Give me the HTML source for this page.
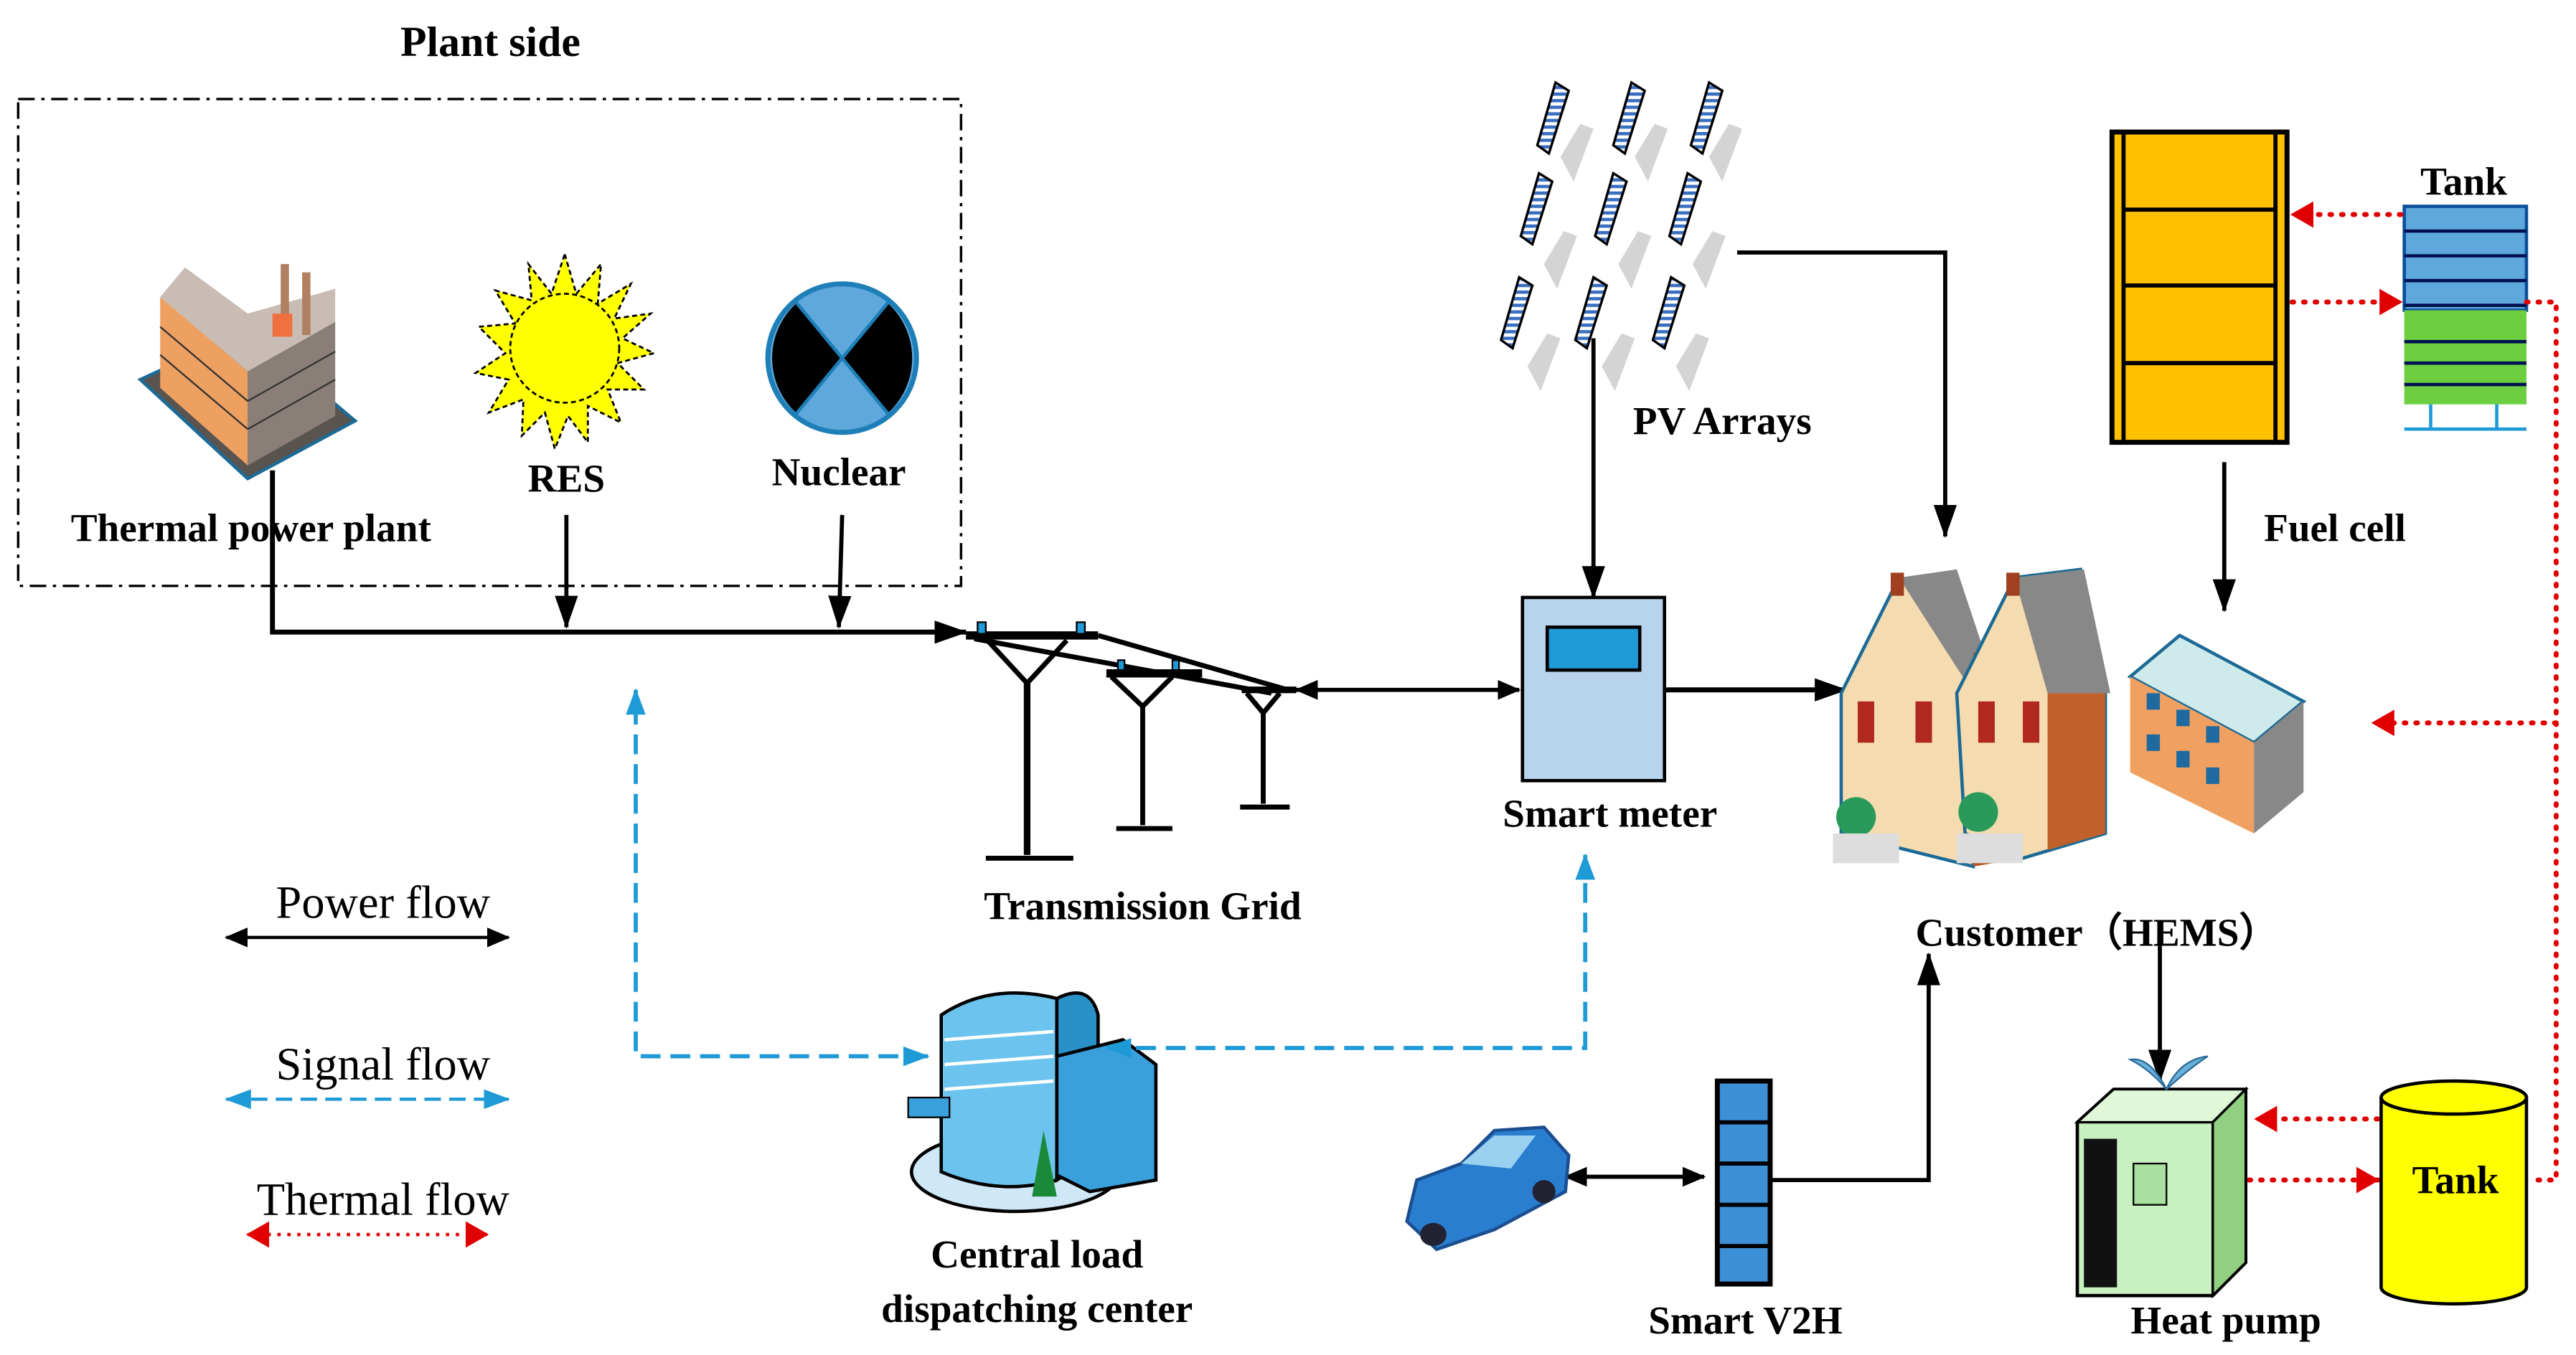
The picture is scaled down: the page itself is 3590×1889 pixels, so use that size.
<!DOCTYPE html>
<html><head><meta charset="utf-8"><style>html,body{margin:0;padding:0;background:#fff}svg{display:block}text{font-family:"Liberation Serif",serif;font-weight:bold;fill:#000}</style></head>
<body>
<svg width="3590" height="1889" viewBox="0 0 1560 821" preserveAspectRatio="none" xmlns="http://www.w3.org/2000/svg">
<defs>
<marker id="ab" markerWidth="14" markerHeight="12" refX="13" refY="6" orient="auto" markerUnits="userSpaceOnUse"><path d="M0,0 L14,6 L0,12 Z" fill="#000"/></marker>
<marker id="abs" markerWidth="14" markerHeight="12" refX="1" refY="6" orient="auto" markerUnits="userSpaceOnUse"><path d="M14,0 L0,6 L14,12 Z" fill="#000"/></marker>
<marker id="bb" markerWidth="20" markerHeight="14" refX="19" refY="7" orient="auto" markerUnits="userSpaceOnUse"><path d="M0,0 L20,7 L0,14 Z" fill="#000"/></marker>
<marker id="ba" markerWidth="16" markerHeight="12" refX="15" refY="6" orient="auto" markerUnits="userSpaceOnUse"><path d="M0,0 L16,6 L0,12 Z" fill="#1e9ad6"/></marker>
<marker id="bas" markerWidth="16" markerHeight="12" refX="1" refY="6" orient="auto" markerUnits="userSpaceOnUse"><path d="M16,0 L0,6 L16,12 Z" fill="#1e9ad6"/></marker>
<marker id="ra" markerWidth="14" markerHeight="16" refX="13" refY="8" orient="auto" markerUnits="userSpaceOnUse"><path d="M0,0 L14,8 L0,16 Z" fill="#e00000"/></marker>
<marker id="ras" markerWidth="14" markerHeight="16" refX="1" refY="8" orient="auto" markerUnits="userSpaceOnUse"><path d="M14,0 L0,8 L14,16 Z" fill="#e00000"/></marker>
<pattern id="st" width="6" height="4" patternUnits="userSpaceOnUse"><rect width="6" height="4" fill="#fff"/><rect width="6" height="2" fill="#3a6fbf"/></pattern>
</defs>

<text x="297" y="34" font-size="26" text-anchor="middle">Plant side</text>
<rect x="11" y="60" width="571" height="295" fill="none" stroke="#000" stroke-width="1.5" stroke-dasharray="10,4,2,4"/>

<!-- factory -->
<g>
<path d="M85,230 L150,290 L215,255 L150,200 Z" fill="#5a5450" stroke="#1c6a95" stroke-width="2"/>
<path d="M97,180 L150,225 L150,282 L97,235 Z" fill="#eea060"/>
<path d="M150,225 L203,195 L203,252 L150,282 Z" fill="#8a7f78"/>
<path d="M97,180 L112,162 L150,190 L203,175 L203,195 L150,225 Z" fill="#c8bcb4"/>
<rect x="170" y="160" width="5" height="40" fill="#b08060"/><rect x="183" y="165" width="5" height="38" fill="#b08060"/>
<rect x="165" y="190" width="12" height="14" fill="#f07040"/>
<g stroke="#333" stroke-width="1"><line x1="97" y1="198" x2="150" y2="243"/><line x1="97" y1="215" x2="150" y2="260"/><line x1="150" y1="243" x2="203" y2="213"/><line x1="150" y1="260" x2="203" y2="230"/></g>
</g>

<!-- sun -->
<g>
<polygon points="342,154 349,178 364,160 362,184 382,172 372,193 394,190 377,205 396,214 374,220 390,236 368,236 376,256 356,246 356,268 344,252 336,272 330,250 316,264 317,242 296,250 308,230 288,226 306,214 290,198 312,196 300,176 322,182 320,160 334,178" fill="#ffff00" stroke="#000" stroke-width="1.2" stroke-dasharray="3,2"/>
<circle cx="342" cy="211" r="33" fill="#ffff00" stroke="#000" stroke-width="1.2" stroke-dasharray="3,2"/>
</g>
<!-- nuclear -->
<g>
<circle cx="510" cy="217" r="45" fill="#5fa8dc" stroke="#1e7fb8" stroke-width="3"/>
<path d="M510,217 L482,184 A45,45 0 0 0 482,250 Z" fill="#000"/>
<path d="M510,217 L538,184 A45,45 0 0 1 538,250 Z" fill="#000"/>
<line x1="482" y1="183" x2="538" y2="251" stroke="#1e7fb8" stroke-width="2"/><line x1="538" y1="183" x2="482" y2="251" stroke="#1e7fb8" stroke-width="2"/>
</g>
<text x="152" y="328" font-size="24" text-anchor="middle">Thermal power plant</text>
<text x="343" y="298" font-size="24" text-anchor="middle">RES</text>
<text x="508" y="294" font-size="24" text-anchor="middle">Nuclear</text>

<!-- power lines -->
<g stroke="#000" stroke-width="3" fill="none">
<polyline points="165,285 165,383 585,383" marker-end="url(#bb)"/>
<line x1="343" y1="312" x2="343" y2="380" stroke-width="2.5" marker-end="url(#bb)"/>
<line x1="510" y1="312" x2="508" y2="380" stroke-width="2.5" marker-end="url(#bb)"/>
</g>

<!-- towers -->
<g stroke="#000" stroke-width="3" fill="none">
<line x1="585" y1="385" x2="665" y2="385" stroke-width="5"/>
<line x1="670" y1="408" x2="728" y2="408" stroke-width="5"/>
<line x1="752" y1="418" x2="785" y2="418" stroke-width="4"/>
<line x1="665" y1="385" x2="780" y2="418"/><line x1="590" y1="387" x2="770" y2="420"/>
<polyline points="598,388 622,414 646,388"/><polyline points="673,410 692,428 710,410"/><polyline points="755,420 765,432 775,420"/>
<line x1="622" y1="414" x2="622" y2="518" stroke-width="4"/><line x1="692" y1="428" x2="692" y2="500"/><line x1="765" y1="432" x2="765" y2="487"/>
<line x1="597" y1="520" x2="650" y2="520"/><line x1="676" y1="502" x2="710" y2="502"/><line x1="751" y1="489" x2="781" y2="489"/>
</g>
<g fill="#1e9ad6" stroke="#000" stroke-width="1"><rect x="592" y="377" width="5" height="7"/><rect x="652" y="377" width="5" height="7"/><rect x="677" y="400" width="4" height="6"/><rect x="710" y="400" width="4" height="6"/></g>
<text x="692" y="557" font-size="24" text-anchor="middle">Transmission Grid</text>
<line x1="785" y1="418" x2="920" y2="418" stroke="#000" stroke-width="2.5" marker-start="url(#abs)" marker-end="url(#ab)"/>

<!-- smart meter -->
<rect x="922" y="362" width="86" height="111" fill="#b8d3ec" stroke="#000" stroke-width="2"/>
<rect x="937" y="380" width="56" height="26" fill="#1e9ad6" stroke="#000" stroke-width="2"/>
<text x="975" y="501" font-size="24" text-anchor="middle">Smart meter</text>
<line x1="1008" y1="418" x2="1118" y2="418" stroke="#000" stroke-width="3" marker-end="url(#bb)"/>

<!-- PV panels -->
<g>
<g fill="#d4d4d4">
<path d="M945,95 l12,-20 l8,3 l-12,32 z"/><path d="M990,95 l12,-20 l8,3 l-12,32 z"/><path d="M1035,95 l12,-20 l8,3 l-12,32 z"/>
<path d="M935,160 l12,-20 l8,3 l-12,32 z"/><path d="M980,160 l12,-20 l8,3 l-12,32 z"/><path d="M1025,160 l12,-20 l8,3 l-12,32 z"/>
<path d="M925,222 l12,-20 l8,3 l-12,32 z"/><path d="M970,222 l12,-20 l8,3 l-12,32 z"/><path d="M1015,222 l12,-20 l8,3 l-12,32 z"/>
</g>
<g fill="url(#st)" stroke="#000" stroke-width="1.5">
<path d="M942,50 l8,5 l-12,38 l-7,-5 z"/><path d="M988,50 l8,5 l-12,38 l-7,-5 z"/><path d="M1035,50 l8,5 l-12,38 l-7,-5 z"/>
<path d="M932,105 l8,5 l-12,38 l-7,-5 z"/><path d="M977,105 l8,5 l-12,38 l-7,-5 z"/><path d="M1022,105 l8,5 l-12,38 l-7,-5 z"/>
<path d="M920,168 l8,5 l-12,38 l-7,-5 z"/><path d="M965,168 l8,5 l-12,38 l-7,-5 z"/><path d="M1012,168 l8,5 l-12,38 l-7,-5 z"/>
</g>
</g>
<text x="1043" y="263" font-size="24" text-anchor="middle">PV Arrays</text>
<line x1="965" y1="205" x2="965" y2="362" stroke="#000" stroke-width="2.5" marker-end="url(#bb)"/>
<polyline points="1052,153 1178,153 1178,325" fill="none" stroke="#000" stroke-width="2.5" marker-end="url(#bb)"/>

<!-- fuel cell -->
<rect x="1279" y="80" width="106" height="188" fill="#ffc000" stroke="#000" stroke-width="3"/>
<g stroke="#000" stroke-width="2.5"><line x1="1286" y1="80" x2="1286" y2="268"/><line x1="1378" y1="80" x2="1378" y2="268"/>
<line x1="1286" y1="127" x2="1378" y2="127"/><line x1="1286" y1="173" x2="1378" y2="173"/><line x1="1286" y1="220" x2="1378" y2="220"/></g>
<text x="1414" y="328" font-size="24" text-anchor="middle">Fuel cell</text>
<line x1="1347" y1="280" x2="1347" y2="370" stroke="#000" stroke-width="2.5" marker-end="url(#bb)"/>

<!-- tank top -->
<rect x="1456" y="125" width="74" height="63" fill="#5fa8dc" stroke="#0b4f9a" stroke-width="2"/>
<rect x="1456" y="188" width="74" height="57" fill="#6dcf40"/>
<g stroke="#001050" stroke-width="2"><line x1="1456" y1="140" x2="1530" y2="140"/><line x1="1456" y1="155" x2="1530" y2="155"/><line x1="1456" y1="170" x2="1530" y2="170"/><line x1="1456" y1="185" x2="1530" y2="185"/><line x1="1456" y1="207" x2="1530" y2="207"/><line x1="1456" y1="220" x2="1530" y2="220"/><line x1="1456" y1="233" x2="1530" y2="233"/></g>
<g stroke="#1e9ad6" stroke-width="2"><line x1="1472" y1="245" x2="1472" y2="259"/><line x1="1512" y1="245" x2="1512" y2="259"/><line x1="1456" y1="260" x2="1530" y2="260"/></g>
<text x="1492" y="118" font-size="24" text-anchor="middle">Tank</text>

<!-- thermal dotted -->
<g stroke="#e00000" stroke-width="3" fill="none" stroke-dasharray="1,6" stroke-linecap="round">
<line x1="1454" y1="130" x2="1388" y2="130" marker-end="url(#ra)"/>
<line x1="1388" y1="183" x2="1454" y2="183" marker-end="url(#ra)"/>
<polyline points="1530,183 1548,183 1548,715 1532,715"/>
<line x1="1548" y1="438" x2="1437" y2="438" marker-end="url(#ra)"/>
<line x1="1440" y1="678" x2="1366" y2="678" marker-end="url(#ra)"/>
<line x1="1362" y1="715" x2="1440" y2="715" marker-end="url(#ra)"/>
</g>

<!-- houses -->
<g>
<path d="M1115,420 L1150,350 L1195,395 L1195,525 L1115,505 Z" fill="#f5dcb0" stroke="#1c6a95" stroke-width="2"/>
<path d="M1150,350 L1185,345 L1210,420 L1195,420 Z" fill="#888"/>
<path d="M1195,395 L1225,420 L1225,520 L1195,525 Z" fill="#b9521e"/>
<path d="M1185,420 L1220,350 L1260,345 L1275,420 L1275,505 L1225,520 L1190,505 Z" fill="#f5dcb0" stroke="#1c6a95" stroke-width="2"/>
<path d="M1220,350 L1262,345 L1278,420 L1240,420 Z" fill="#888"/>
<path d="M1240,420 L1275,420 L1275,505 L1240,515 Z" fill="#c0602a"/>
<rect x="1145" y="347" width="8" height="14" fill="#a04020"/><rect x="1215" y="347" width="8" height="14" fill="#a04020"/>
<g fill="#b0281e"><rect x="1125" y="425" width="10" height="25"/><rect x="1160" y="425" width="10" height="25"/><rect x="1198" y="425" width="10" height="25"/><rect x="1225" y="425" width="10" height="25"/></g>
<circle cx="1124" cy="495" r="12" fill="#2a9a5a"/><circle cx="1198" cy="492" r="12" fill="#2a9a5a"/>
<rect x="1110" y="505" width="40" height="18" fill="#ddd"/><rect x="1185" y="505" width="40" height="18" fill="#ddd"/>
</g>
<g>
<path d="M1290,410 L1320,385 L1395,425 L1365,450 Z" fill="#cfeaea" stroke="#1c6a95" stroke-width="2"/>
<path d="M1290,410 L1365,450 L1365,505 L1290,468 Z" fill="#f0a060"/>
<path d="M1365,450 L1395,425 L1395,480 L1365,505 Z" fill="#888"/>
<g fill="#1e6aa0"><rect x="1300" y="420" width="8" height="10"/><rect x="1318" y="430" width="8" height="10"/><rect x="1336" y="440" width="8" height="10"/><rect x="1300" y="445" width="8" height="10"/><rect x="1318" y="455" width="8" height="10"/><rect x="1336" y="465" width="8" height="10"/></g>
</g>
<text x="1270" y="573" font-size="24" text-anchor="middle">Customer（HEMS）</text>
<line x1="1308" y1="570" x2="1308" y2="655" stroke="#000" stroke-width="2.5" marker-end="url(#bb)"/>

<!-- heat pump -->
<path d="M1258,680 L1280,660 L1360,660 L1360,765 L1340,785 L1258,785 Z" fill="#c8f0c0" stroke="#000" stroke-width="2"/>
<path d="M1258,680 L1280,660 L1360,660 L1340,680 Z" fill="#e0f8d8" stroke="#000" stroke-width="1.5"/>
<path d="M1340,680 L1360,660 L1360,765 L1340,785 Z" fill="#90d080" stroke="#000" stroke-width="1.5"/>
<rect x="1262" y="690" width="20" height="90" fill="#111"/>
<rect x="1292" y="705" width="20" height="25" fill="#a8e0a0" stroke="#000"/>
<path d="M1312,660 q-10,-20 -22,-18 q12,6 22,18 q8,-18 25,-20 q-12,8 -25,20" fill="#6ab0d8" stroke="#2a6a9a"/>
<text x="1348" y="808" font-size="24" text-anchor="middle">Heat pump</text>

<!-- tank bottom -->
<path d="M1442,665 L1442,780 A44,10 0 0 0 1530,780 L1530,665" fill="#ffff00" stroke="#000" stroke-width="2"/>
<ellipse cx="1486" cy="665" rx="44" ry="10" fill="#ffff00" stroke="#000" stroke-width="2"/>
<text x="1487" y="723" font-size="24" text-anchor="middle">Tank</text>

<!-- V2H -->
<rect x="1040" y="655" width="32" height="123" fill="#3d8fd6" stroke="#000" stroke-width="3"/>
<g stroke="#000" stroke-width="2.5"><line x1="1040" y1="680" x2="1072" y2="680"/><line x1="1040" y1="705" x2="1072" y2="705"/><line x1="1040" y1="730" x2="1072" y2="730"/><line x1="1040" y1="755" x2="1072" y2="755"/></g>
<text x="1057" y="808" font-size="24" text-anchor="middle">Smart V2H</text>
<polyline points="1072,715 1168,715 1168,578" fill="none" stroke="#000" stroke-width="2.5" marker-end="url(#bb)"/>
<line x1="948" y1="713" x2="1032" y2="713" stroke="#000" stroke-width="2.5" marker-start="url(#abs)" marker-end="url(#ab)"/>

<!-- car -->
<g>
<path d="M852,740 L858,715 L885,705 L905,685 L935,683 L950,700 L948,722 L905,745 L870,757 Z" fill="#2a7ed0" stroke="#1a4e90" stroke-width="2"/>
<path d="M885,705 L905,688 L930,688 L915,708 Z" fill="#9ad0f0"/>
<ellipse cx="868" cy="748" rx="8" ry="7" fill="#223"/><ellipse cx="935" cy="722" rx="7" ry="7" fill="#223"/>
</g>

<!-- dispatch center -->
<g>
<ellipse cx="615" cy="710" rx="63" ry="24" fill="#cfe7f7" stroke="#000" stroke-width="2"/>
<path d="M570,615 Q600,595 640,605 L640,715 Q605,725 570,710 Z" fill="#6cc4ee" stroke="#000" stroke-width="2"/>
<path d="M640,605 Q660,595 665,615 L665,700 L640,715 Z" fill="#2a90c8" stroke="#000" stroke-width="2"/>
<path d="M640,640 L680,630 L700,645 L700,715 L660,722 L640,712 Z" fill="#3aa0dc" stroke="#000" stroke-width="2"/>
<g stroke="#fff" stroke-width="2"><line x1="572" y1="630" x2="638" y2="625"/><line x1="572" y1="645" x2="638" y2="640"/><line x1="572" y1="660" x2="638" y2="655"/></g>
<path d="M625,725 L632,685 L640,725 Z" fill="#1a8a3a"/>
<rect x="550" y="665" width="25" height="12" fill="#3aa0dc" stroke="#000"/>
</g>
<text x="628" y="768" font-size="24" text-anchor="middle">Central load</text>
<text x="628" y="801" font-size="24" text-anchor="middle">dispatching center</text>

<!-- signal flows -->
<g stroke="#1e9ad6" stroke-width="2.5" fill="none" stroke-dasharray="12,6">
<polyline points="562,640 385,640 385,418" marker-start="url(#bas)" marker-end="url(#ba)"/>
<polyline points="670,635 960,635 960,518" marker-start="url(#bas)" marker-end="url(#ba)"/>
</g>

<!-- legend -->
<text x="232" y="556" font-size="28" text-anchor="middle" style="font-weight:normal">Power flow</text>
<line x1="137" y1="568" x2="308" y2="568" stroke="#000" stroke-width="2" marker-start="url(#abs)" marker-end="url(#ab)"/>
<text x="232" y="654" font-size="28" text-anchor="middle" style="font-weight:normal">Signal flow</text>
<line x1="137" y1="666" x2="308" y2="666" stroke="#1e9ad6" stroke-width="2" stroke-dasharray="10,5" marker-start="url(#bas)" marker-end="url(#ba)"/>
<text x="232" y="736" font-size="28" text-anchor="middle" style="font-weight:normal">Thermal flow</text>
<line x1="150" y1="748" x2="295" y2="748" stroke="#e00000" stroke-width="2" stroke-dasharray="2,4" marker-start="url(#ras)" marker-end="url(#ra)"/>
</svg>
</body></html>
